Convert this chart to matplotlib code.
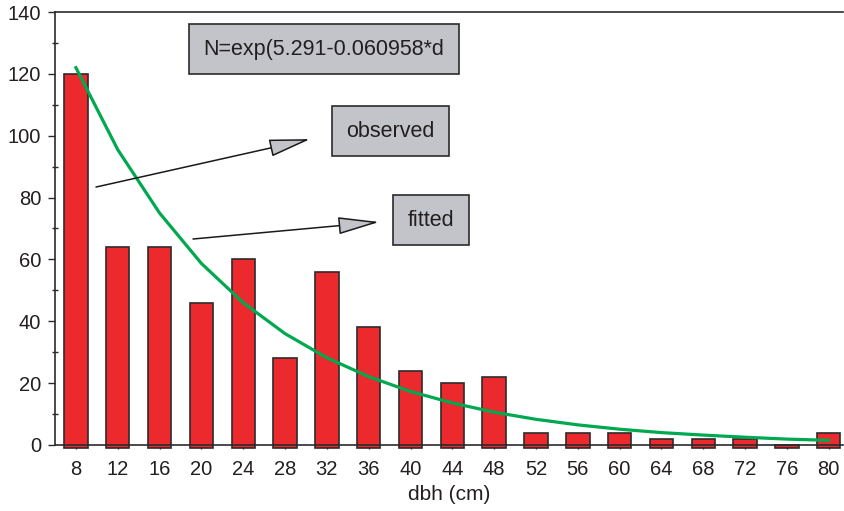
import matplotlib.pyplot as plt
import numpy as np

plt.rcParams['font.family'] = ['Liberation Sans', 'DejaVu Sans']

# diameter classes (cm) and counts
dbh = [8, 12, 16, 20, 24, 28, 32, 36, 40, 44, 48, 52, 56, 60, 64, 68, 72, 76, 80]
observed = [120, 64, 64, 46, 60, 28, 56, 38, 24, 20, 22, 4, 4, 4, 2, 2, 2, 0, 4]
# green fitted line
fitted = [122, 95.5, 75, 58.7, 46, 36, 28.2, 22.1, 17.3, 13.6, 10.6,
          8.3, 6.5, 5.1, 4.0, 3.2, 2.5, 1.9, 1.5]
equation = 'N=exp(5.291-0.060958*d'

dark = '#2b2b2b'
txt = '#231f20'
red = '#ec2a2e'
green = '#00a84f'
boxgray = '#c2c4ca'

fig = plt.figure(figsize=(8.45, 5.11), dpi=100)
ax = fig.add_axes([55/845, 1 - 449/511, (843 - 55)/845, (449 - 12)/511])

x = np.arange(len(dbh))
# bars start a little under the axis line, as in the original
base = -1
ax.bar(x, np.array(observed) - base, width=0.56, bottom=base, color=red,
       edgecolor=dark, linewidth=1.2, zorder=2)
ax.plot(x, fitted, color=green, linewidth=2.3, zorder=3)

ax.set_xlim(-0.5, 18.34)
ax.set_ylim(-1.3, 140)
ax.spines['bottom'].set_position(('data', 0))
ax.spines['left'].set_bounds(0, 140)
ax.spines['right'].set_visible(False)
for s in ['left', 'bottom', 'top']:
    ax.spines[s].set_color(dark)
    ax.spines[s].set_linewidth(1.2)

ax.set_xticks(x)
ax.set_xticklabels([str(d) for d in dbh])
ax.set_yticks(np.arange(0, 141, 20))
ax.set_yticks(np.arange(10, 140, 20), minor=True)
ax.tick_params(axis='y', which='major', direction='out', length=5, width=1,
               color=dark, labelsize=14.5, labelcolor=txt, pad=5)
ax.tick_params(axis='y', which='minor', direction='inout', length=4, width=1,
               color=dark)
ax.tick_params(axis='x', direction='out', length=3, width=1, color=dark,
               labelsize=14.5, labelcolor=txt, pad=8)
ax.set_xlabel('dbh (cm)', fontsize=15, color=txt, labelpad=4)

box = dict(boxstyle='square,pad=0.68', facecolor=boxgray, edgecolor=dark, linewidth=1.2)
ax.text(5.93, 128.0, equation, ha='center', va='center', fontsize=15.5,
        color=txt, bbox=box, zorder=5)
ax.text(7.52, 101.5, 'observed', ha='center', va='center', fontsize=15.5,
        color=txt, bbox=box, zorder=5)
ax.text(8.49, 72.7, 'fitted', ha='center', va='center', fontsize=15.5,
        color=txt, bbox=box, zorder=5)

arrow = dict(arrowstyle='-|>,head_length=2.6,head_width=0.55', facecolor=boxgray,
             edgecolor='#1a1a1a', linewidth=1.1, shrinkA=0, shrinkB=0)
ax.annotate('', xy=(5.6, 98.9), xytext=(0.48, 83.4), arrowprops=arrow, zorder=4)
ax.annotate('', xy=(7.25, 72.1), xytext=(2.8, 66.6), arrowprops=arrow, zorder=4)

fig.savefig('out.png', dpi=100)
